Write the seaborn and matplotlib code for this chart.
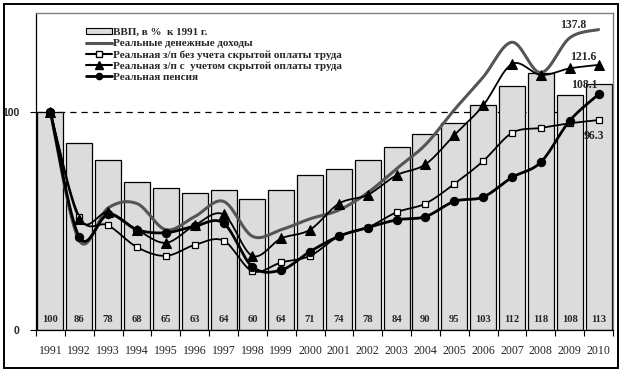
import numpy as np
import pandas as pd
import matplotlib
matplotlib.use("Agg")
import matplotlib.pyplot as plt
import seaborn as sns
from matplotlib.lines import Line2D
from matplotlib.patches import Patch, Rectangle

years = list(range(1991, 2011))
gdp = [100, 86, 78, 68, 65, 63, 64, 60, 64, 71, 74, 78, 84, 90, 95, 103, 112, 118, 108, 113]
income = [100, 41, 56, 58, 46, 52, 59, 43, 46, 51, 55, 63, 74, 85, 101, 116, 132, 118, 134, 137.8]
wage = [100, 52, 48, 38, 34, 39, 41, 27, 31, 34, 43, 47, 54, 58, 67, 77.5, 90.4, 92.7, 94.8, 96.3]
wage_hidden = [100, 51, 54, 46, 40, 48, 53, 34, 42, 46, 58, 62, 71, 76, 89.4, 103, 122, 117, 120, 121.6]
pension = [100, 42.6, 53, 46, 44.6, 47.6, 49, 29, 27.5, 36, 43, 47, 50.5, 52, 59, 61, 70, 77, 96, 108.1]

labels = ["ВВП, в %  к 1991 г.",
          "Реальные денежные доходы",
          "Реальная з/п без учета скрытой оплаты труда",
          "Реальная з/п с  учетом скрытой оплаты труда",
          "Реальная пенсия"]


def smooth(y, n=16):
    """Excel-like smoothed curve (Catmull-Rom Bezier) through the points."""
    x = np.arange(len(y), dtype=float)
    y = np.asarray(y, dtype=float)
    P = np.column_stack([x, y])
    out = []
    m = len(P)
    for i in range(m - 1):
        p0 = P[i - 1] if i > 0 else P[i]
        p1 = P[i]
        p2 = P[i + 1]
        p3 = P[i + 2] if i + 2 < m else P[i + 1]
        c1 = p1 + (p2 - p0) / 6.0
        c2 = p2 - (p3 - p1) / 6.0
        t = np.linspace(0, 1, n, endpoint=(i == m - 2))[:, None]
        seg = ((1 - t) ** 3) * p1 + 3 * ((1 - t) ** 2) * t * c1 + 3 * (1 - t) * t ** 2 * c2 + t ** 3 * p2
        out.append(seg)
    out = np.vstack(out)
    return out[:, 0], out[:, 1]


sns.set_theme(style="white")
serif = ["Liberation Serif", "DejaVu Serif"]
plt.rcParams["font.family"] = serif

fig = plt.figure(figsize=(6.23, 3.74), dpi=100)
ax = fig.add_axes([36 / 623, 44 / 374, 577 / 623, 317 / 374])

df = pd.DataFrame({"year": [str(y) for y in years], "gdp": gdp})
sns.barplot(data=df, x="year", y="gdp", ax=ax, color="#dcdcdc", saturation=1,
            width=0.9, edgecolor="black", linewidth=0.9, zorder=2)

ax.axhline(100, color="black", lw=0.9, ls=(0, (5, 4)), zorder=1)

xs = np.arange(len(years))
series = [
    (income, dict(color="#555555", lw=2.2), None),
    (wage, dict(color="black", lw=1.3), dict(marker="s", ms=5, mfc="white", mec="black", mew=0.9)),
    (wage_hidden, dict(color="black", lw=1.3), dict(marker="^", ms=6.5, mfc="black", mec="black")),
    (pension, dict(color="black", lw=2.0), dict(marker="o", ms=6, mfc="black", mec="black")),
]
for vals, lkw, mkw in series:
    sx, sy = smooth(vals)
    ax.plot(sx, sy, zorder=4, solid_capstyle="round", **lkw)
    if mkw:
        sns.lineplot(x=xs, y=vals, ax=ax, linestyle="none", zorder=5, legend=False, **mkw)

# bar labels
for i, v in enumerate(gdp):
    ax.text(i, 4.6, f"{v}", ha="center", va="center", fontsize=7.6,
            fontweight="bold", family=serif, zorder=6)

# end labels (offsets in pixels: right, up)
last = len(years) - 1
for vals, txt, off in [(income, "137.8", (-25, 5)), (wage_hidden, "121.6", (-15, 8)),
                       (pension, "108.1", (-14, 9)), (wage, "96.3", (-5, -16))]:
    ax.annotate(txt, (last, vals[-1]), xytext=off, textcoords="offset pixels",
                ha="center", va="center", fontsize=8.5, fontweight="bold", zorder=7)

ax.set_xlim(-0.5, len(years) - 0.5)
ax.set_ylim(0, 145.4)
ax.set_xlabel("")
ax.set_ylabel("")

ax.set_xticks(xs)
ax.set_xticklabels([str(y) for y in years], fontsize=8.6, family=serif)
ax.set_xticks(np.arange(-0.5, len(years)), minor=True)
ax.tick_params(axis="x", which="major", length=0, pad=11)
ax.tick_params(axis="x", which="minor", length=4, width=0.8, color="black", direction="out", bottom=True)
ax.set_yticks([0, 100])
ax.set_yticklabels(["0", "100"], fontsize=7.5, fontweight="bold", family=["Liberation Sans", "DejaVu Sans"])
ax.tick_params(axis="y", length=4, width=0.8, color="black", direction="out", left=True, pad=8)

for s in ["left", "bottom"]:
    ax.spines[s].set_color("black")
    ax.spines[s].set_linewidth(0.9)
for s in ["top", "right"]:
    ax.spines[s].set_color("#808080")
    ax.spines[s].set_linewidth(1.0)
ax.grid(False)

handles = [
    Patch(facecolor="#dcdcdc", edgecolor="black", linewidth=0.8),
    Line2D([], [], color="#555555", lw=2.2),
    Line2D([], [], color="black", lw=1.5, marker="s", ms=5, mfc="white", mec="black"),
    Line2D([], [], color="black", lw=1.5, marker="^", ms=6, mfc="black"),
    Line2D([], [], color="black", lw=2.0, marker="o", ms=4.5, mfc="black"),
]
leg = fig.legend(handles, labels, loc="upper left", bbox_to_anchor=(86 / 623, 1 - 28 / 374),
                 frameon=False, handlelength=2.3, handleheight=0.5, handletextpad=0.15,
                 labelspacing=0.17, borderaxespad=0, borderpad=0,
                 prop=dict(family=serif, weight="bold", size=8))

fig.patches.append(Rectangle((4 / 623, 6 / 374), 614 / 623, 364 / 374, transform=fig.transFigure,
                             fill=False, edgecolor="black", linewidth=1.4))

fig.savefig("out.png", dpi=100, facecolor="white")
